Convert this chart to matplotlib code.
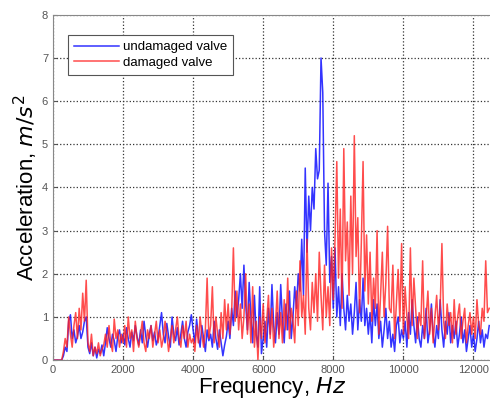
from matplotlib import pyplot as plt
import numpy as np

# частота, Гц (шаг 50 Гц)
freq = np.arange(0, 12500, 50)

# неповреждённый клапан
undamaged = [
    0, 0, 0, 0, 0, 0, 0.1, 0.3, 0.2, 0.9,
    1.05, 0.5, 0.7, 0.4, 0.55, 0.8, 0.5, 0.65, 0.9, 1.0,
    0.3, 0.15, 0.4, 0.1, 0.3, 0.05, 0.25, 0.15, 0.35, 0.1,
    0.4, 0.75, 0.5, 0.3, 0.6, 0.45, 0.2, 0.55, 0.7, 0.4,
    0.6, 0.35, 0.75, 0.5, 0.3, 0.65, 0.45, 0.8, 0.55, 0.35,
    0.7, 0.4, 0.9, 0.55, 0.3, 0.6, 0.8, 0.45, 0.65, 0.35,
    0.5, 0.8, 1.1, 0.6, 0.4, 0.85, 0.55, 0.3, 1.0, 0.6,
    0.45, 0.75, 0.35, 0.6, 0.9, 0.5, 0.3, 0.65, 0.8, 1.05,
    0.7, 0.4, 0.95, 0.55, 0.3, 0.8, 0.5, 0.2, 0.7, 0.45,
    0.6, 0.3, 0.9, 0.5, 0.25, 0.7, 0.4, 0.1, 0.35, 0.55,
    0.9, 0.5, 1.2, 0.8, 1.6, 1.0, 1.4, 2.0, 1.2, 2.2,
    1.3, 0.7, 1.8, 1.0, 0.4, 1.5, 0.6, 0.3, 1.7, 0.15,
    0.5, 0.9, 0.3, 1.2, 0.6, 1.75, 0.8, 0.4, 1.1, 0.6,
    1.75, 0.9, 0.4, 1.3, 0.7, 1.6, 0.5, 1.0, 1.7, 1.2,
    2.0, 1.6, 2.8, 1.5, 4.45, 2.5, 3.8, 3.0, 4.0, 3.5,
    4.9, 4.2, 4.4, 7.0, 6.2, 3.0, 2.2, 4.1, 1.8, 2.4,
    1.2, 2.6, 1.0, 1.7, 0.8, 2.0, 1.2, 0.7, 1.5, 0.9,
    1.3, 0.6, 1.1, 1.8, 0.7, 1.4, 0.9, 1.9, 0.8, 1.2,
    0.6, 1.1, 0.4, 1.4, 0.8, 1.3, 0.5, 0.9, 0.3, 0.7,
    1.2, 0.5, 0.9, 0.3, 0.6, 0.2, 0.8, 1.0, 0.4, 0.7,
    0.5, 0.9, 0.3, 1.1, 0.6, 1.4, 0.8, 0.4, 1.0, 0.5,
    0.3, 0.8, 0.5, 1.2, 0.4, 0.7, 1.3, 0.6, 0.3, 0.8,
    0.5, 1.4, 0.7, 0.3, 0.9, 0.6, 1.1, 0.4, 0.8, 0.5,
    0.9, 0.3, 0.6, 1.0, 0.4, 0.7, 0.2, 0.5, 0.8, 0.3,
    0.6, 0.2, 0.5, 0.9, 0.4, 0.7, 0.3, 0.6, 0.5, 0.8,
]

# повреждённый клапан
damaged = [
    0, 0, 0, 0, 0, 0, 0.2, 0.5, 0.3, 1.0,
    0.6, 0.3, 0.8, 1.1, 0.5, 1.2, 0.7, 1.55, 0.9, 1.85,
    0.4, 0.2, 0.6, 0.1, 0.3, 0.15, 0.4, 0.1, 0.25, 0.35,
    0.6, 0.3, 0.8, 0.4, 0.2, 0.95, 0.5, 0.7, 0.3, 0.6,
    0.4, 0.8, 0.3, 1.0, 0.5, 0.7, 0.2, 0.9, 0.5, 0.3,
    0.6, 0.9, 0.4, 0.2, 0.7, 0.5, 0.8, 0.3, 0.6, 0.9,
    0.4, 0.7, 0.3, 0.5, 0.9, 0.6, 0.2, 0.5, 0.8, 0.4,
    0.7, 1.0, 0.5, 0.3, 0.8, 0.5, 0.9, 0.3, 0.6, 0.4,
    0.5, 0.2, 0.8, 0.4, 1.0, 0.6, 0.3, 0.7, 1.9, 0.5,
    0.8, 1.7, 0.4, 1.0, 0.6, 0.3, 1.1, 0.5, 1.4, 0.7,
    1.3, 0.6, 1.1, 2.6, 0.9, 1.6, 0.7, 1.3, 0.5, 1.0,
    2.0, 0.6, 1.3, 0.4, 1.7, 0.3, 0.9, 0.0, 1.0, 0.5,
    1.3, 0.4, 0.9, 1.5, 0.5, 1.2, 0.3, 0.8, 1.6, 0.5,
    1.1, 0.4, 1.4, 0.7, 1.9, 0.5, 1.2, 0.9, 0.4, 1.6,
    0.8, 2.3, 1.0, 1.5, 0.6, 2.8, 1.2, 0.7, 1.8, 1.1,
    2.0, 0.9, 2.5, 1.5, 0.7, 2.2, 1.0, 1.7, 0.8, 2.6,
    1.4, 2.8, 4.6, 1.9, 3.5, 1.2, 4.9, 2.3, 3.2, 1.5,
    3.8, 2.0, 5.2, 2.4, 3.3, 1.1, 2.7, 4.6, 1.6, 2.9,
    1.3, 2.5, 0.9, 1.9, 1.2, 3.0, 0.6, 1.5, 2.5, 1.0,
    1.8, 3.1, 1.2, 1.1, 2.2, 0.5, 1.3, 2.1, 0.9, 2.7,
    0.6, 1.7, 1.0, 0.5, 2.6, 0.8, 1.9, 1.2, 0.5, 1.1,
    0.8, 2.3, 0.5, 1.0, 1.6, 0.6, 1.2, 0.4, 1.0, 1.5,
    0.7, 1.2, 2.7, 0.9, 0.5, 1.3, 0.8, 1.1, 0.4, 1.4,
    0.6, 1.0, 1.3, 0.5, 0.9, 1.2, 0.4, 0.8, 1.1, 0.6,
    1.0, 0.5, 1.4, 0.8, 0.6, 1.2, 0.9, 2.3, 1.1, 1.2,
]

plt.rcParams['font.family'] = ['Liberation Sans', 'DejaVu Sans']

fig = plt.figure(figsize=(4.9, 4.01), dpi=100)
ax = fig.add_axes([0.108, 0.102, 0.894, 0.861])

ax.plot(freq, undamaged, color='#1010ff', lw=1.1, alpha=0.85, label='undamaged valve')
ax.plot(freq, damaged, color='#ff2020', lw=1.1, alpha=0.8, label='damaged valve')

ax.set_xlim(0, 12500)
ax.set_ylim(0, 8)
ax.set_xticks(range(0, 12001, 2000))
ax.set_yticks(range(0, 9))
ax.grid(True, color='#333333', linestyle=':', linewidth=0.9)
ax.tick_params(direction='in', labelsize=8, colors='#555555', length=3)
for sp in ax.spines.values():
    sp.set_color('#888888')

ax.set_xlabel('Frequency, $\\mathit{Hz}$', fontsize=16, labelpad=0)
ax.set_ylabel('Acceleration, $\\mathit{m/s^2}$', fontsize=16, labelpad=1)

leg = ax.legend(loc='upper left', bbox_to_anchor=(0.02, 0.96), fontsize=9.5,
                fancybox=False, framealpha=1, edgecolor='#555555',
                handlelength=3.4, borderpad=0.45, labelspacing=0.25,
                handletextpad=0.3)
leg.get_frame().set_linewidth(0.8)

plt.savefig('out.png', dpi=100)
